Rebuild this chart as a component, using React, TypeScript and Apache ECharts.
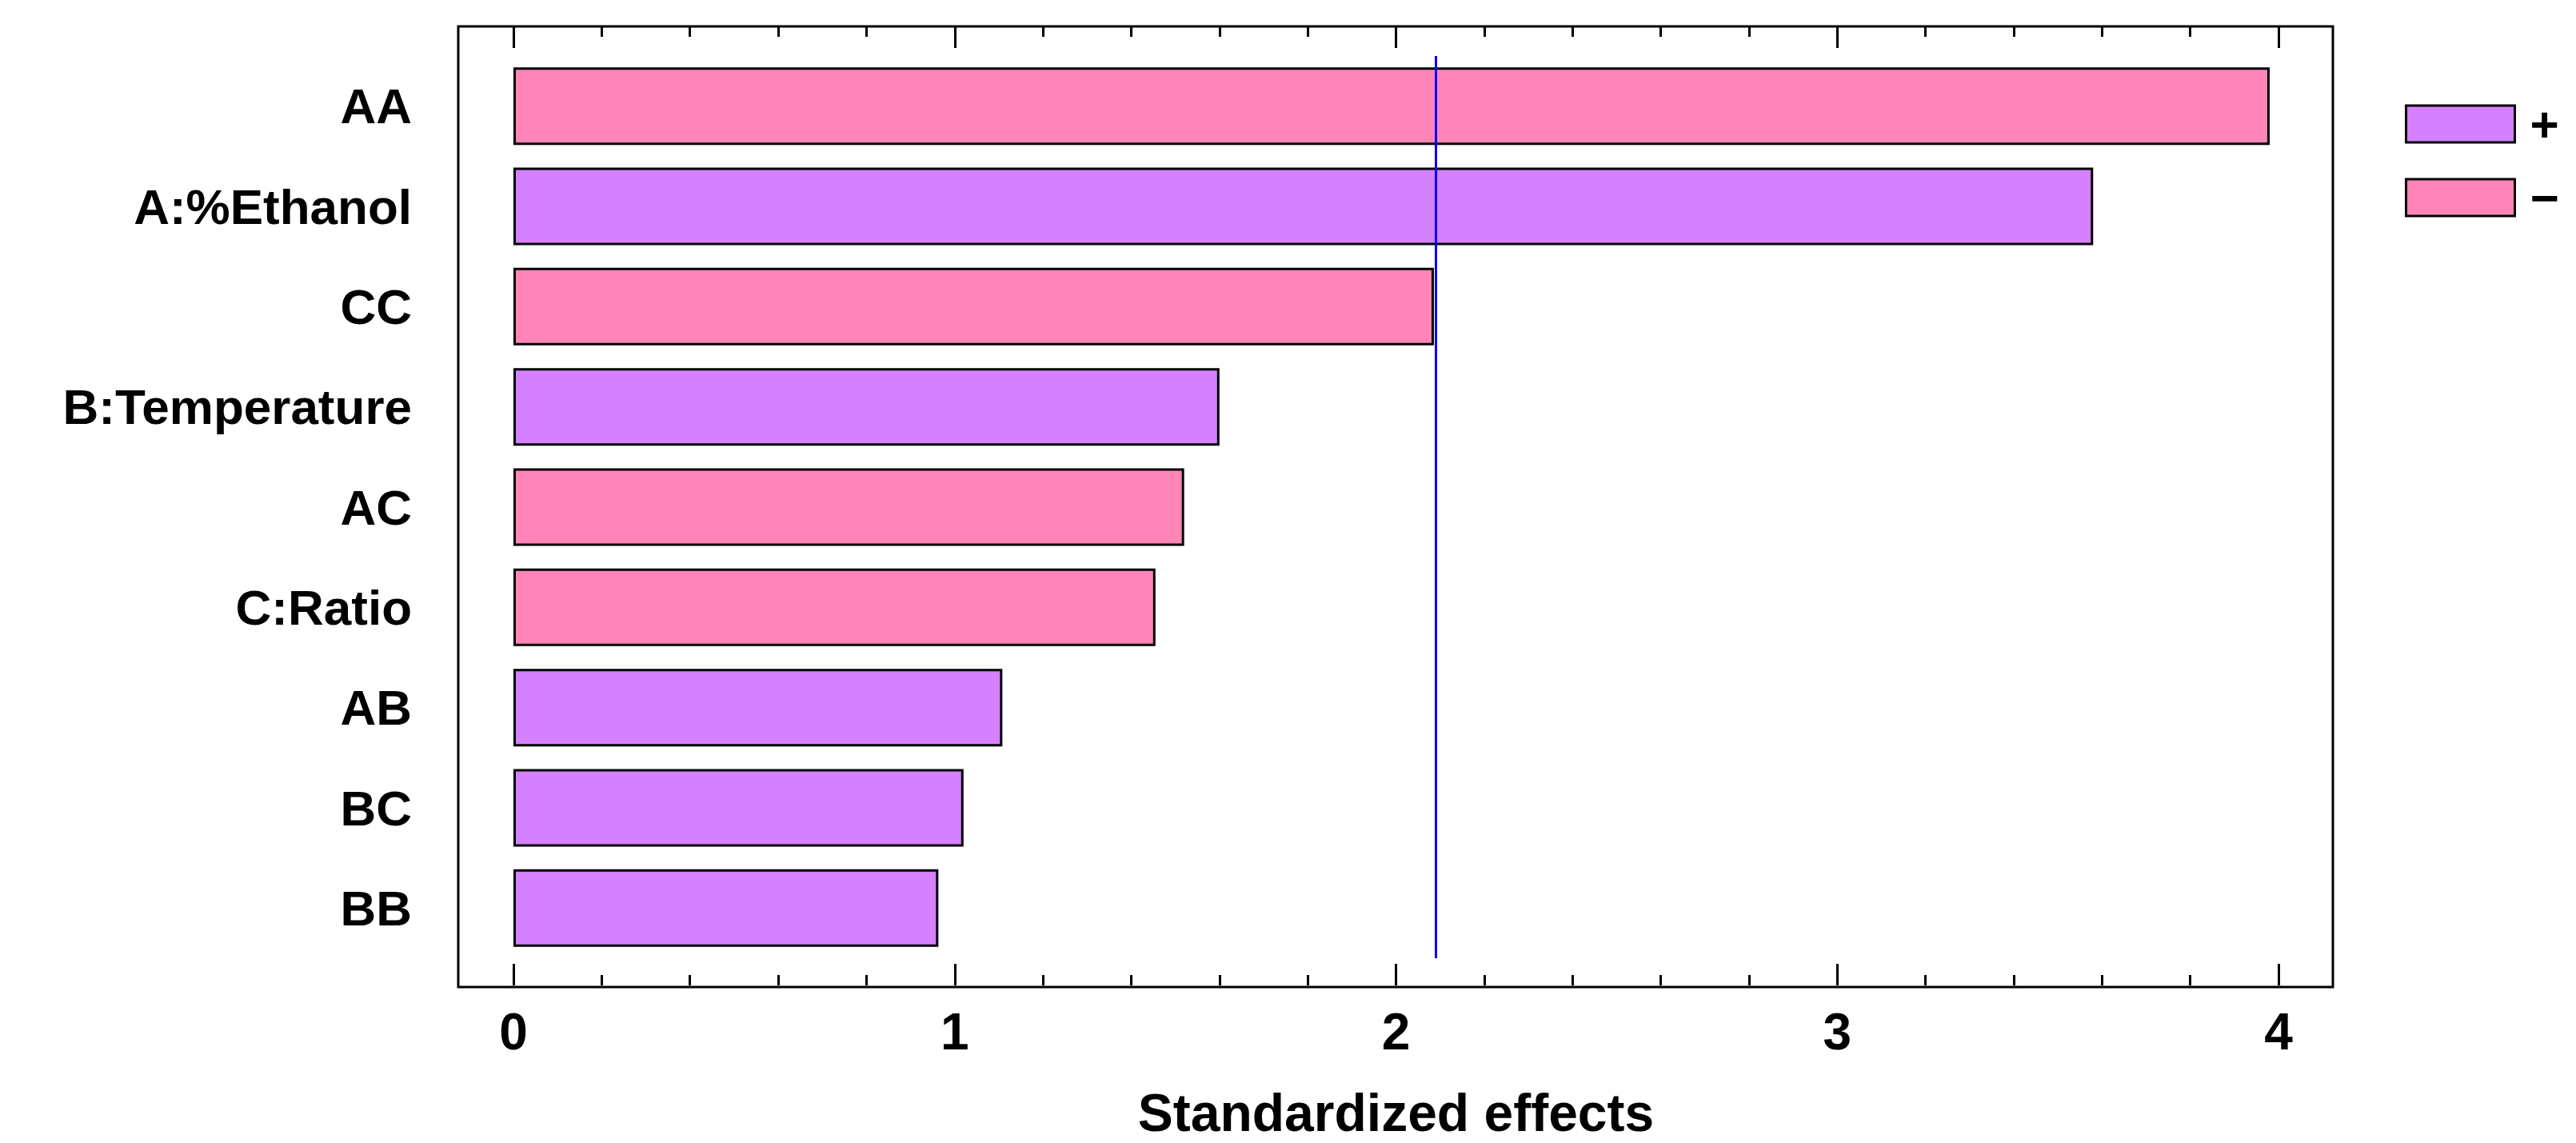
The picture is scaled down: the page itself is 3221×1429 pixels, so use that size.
import React, { useEffect, useRef } from "react";
import * as echarts from "echarts";

const categories = ["AA", "A:%Ethanol", "CC", "B:Temperature", "AC", "C:Ratio", "AB", "BC", "BB"];
const effects = [3.98, 3.58, 2.086, 1.6, 1.52, 1.455, 1.108, 1.02, 0.963];
const signs = ["-", "+", "-", "+", "-", "-", "+", "+", "+"];
const xTicks = [0, 1, 2, 3, 4];
const criticalValue = 2.087;

const PURPLE = "#D580FF";
const PINK = "#FF85B8";
const FONT = "Liberation Sans, Arial, sans-serif";

export default function App() {
  const ref = useRef<HTMLDivElement>(null);
  useEffect(() => {
    document.body.style.margin = "0";
    const chart = echarts.init(ref.current!, null, { renderer: "svg" });
    const plusData = effects.map((v, i) => (signs[i] === "+" ? v : "-"));
    const minusData = effects.map((v, i) => (signs[i] === "-" ? v : "-"));
    const barStyle = (c: string) => ({ color: c, borderColor: "#000", borderWidth: 3 });
    chart.setOption({
      animation: false,
      backgroundColor: "#fff",
      textStyle: { fontFamily: FONT },
      legend: {
        orient: "vertical",
        left: 3002,
        top: 119,
        itemWidth: 136,
        itemHeight: 46,
        itemGap: 30,
        icon: "rect",
        data: ["+", "−"],
        textStyle: { fontSize: 62, fontWeight: "bold", color: "#000", fontFamily: FONT, padding: [0, 0, 0, 14] },
        itemStyle: { borderColor: "#000", borderWidth: 3 },
      },
      grid: [
        { left: 642, right: 372, top: 70, height: 1128, containLabel: false },
        { left: 573, right: 304, top: 33, bottom: 195, show: true, borderColor: "#000", borderWidth: 3, backgroundColor: "transparent" },
        { left: 642, right: 372, top: 33, bottom: 195 },
      ],
      xAxis: [
        { type: "value", gridIndex: 0, min: 0, max: 4, show: false },
        {
          type: "value", gridIndex: 2, position: "bottom", min: 0, max: 4, interval: 1,
          axisLine: { show: false },
          axisTick: { show: true, inside: true, length: 27, lineStyle: { color: "#000", width: 3 } },
          minorTick: { show: true, splitNumber: 5, length: 13, lineStyle: { color: "#000", width: 3 } },
          splitLine: { show: false },
          axisLabel: {
            color: "#000", fontSize: 64, fontWeight: "bold", fontFamily: FONT, margin: 26,
            formatter: (v: number) => (xTicks.includes(v) ? String(v) : ""),
          },
          name: "Standardized effects",
          nameLocation: "middle",
          nameGap: 126,
          nameTextStyle: { color: "#000", fontSize: 66, fontWeight: "bold", fontFamily: FONT },
        },
        {
          type: "value", gridIndex: 2, position: "top", min: 0, max: 4, interval: 1,
          axisLine: { show: false },
          axisTick: { show: true, inside: true, length: 27, lineStyle: { color: "#000", width: 3 } },
          minorTick: { show: true, splitNumber: 5, length: 13, lineStyle: { color: "#000", width: 3 } },
          splitLine: { show: false },
          axisLabel: { show: false },
        },
      ],
      yAxis: [
        {
          type: "category", gridIndex: 0, data: categories, inverse: true,
          axisLine: { show: false }, axisTick: { show: false }, splitLine: { show: false },
          axisLabel: { color: "#000", fontSize: 62, fontWeight: "bold", fontFamily: FONT, margin: 127 },
        },
        { type: "value", gridIndex: 1, show: false },
        { type: "value", gridIndex: 2, show: false },
      ],
      series: [
        {
          name: "+", type: "bar", xAxisIndex: 0, yAxisIndex: 0, stack: "s",
          data: plusData, barWidth: 97, itemStyle: barStyle(PURPLE),
          markLine: {
            silent: true, symbol: "none", label: { show: false },
            lineStyle: { color: "#0A0AEE", width: 3, type: "solid" },
            data: [{ xAxis: criticalValue }],
          },
        },
        {
          name: "−", type: "bar", xAxisIndex: 0, yAxisIndex: 0, stack: "s",
          data: minusData, barWidth: 97, itemStyle: barStyle(PINK),
        },
      ],
    });
    return () => chart.dispose();
  }, []);
  return <div ref={ref} style={{ width: 3221, height: 1429 }} />;
}
